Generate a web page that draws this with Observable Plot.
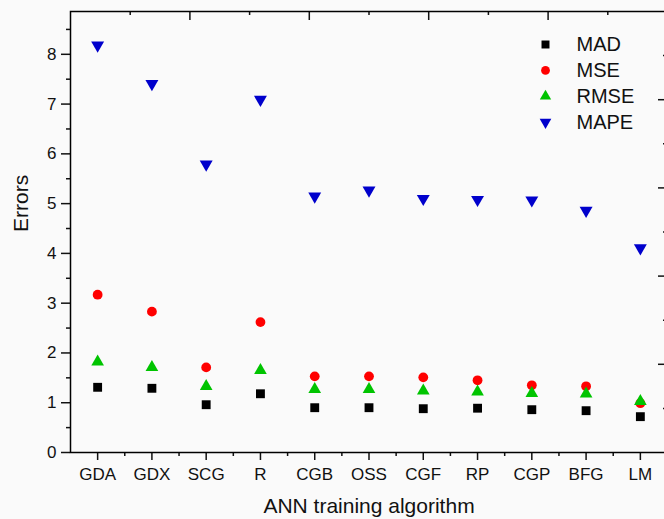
<!DOCTYPE html>
<html><head><meta charset="utf-8">
<script src="https://cdn.jsdelivr.net/npm/d3@7"></script>
<script src="https://cdn.jsdelivr.net/npm/@observablehq/plot@0.6"></script>
<style>
html,body{margin:0;padding:0;background:#fafafa;overflow:hidden;width:664px;height:519px}
#chart{width:664px;height:519px;overflow:hidden}
#chart svg{display:block;max-width:none !important;height:519px !important}
</style></head><body><div id="chart"></div>
<script>
const algorithms = ["GDA","GDX","SCG","R","CGB","OSS","CGF","RP","CGP","BFG","LM"];
const MAD  = [1.31,1.29,0.96,1.18,0.90,0.90,0.88,0.89,0.86,0.84,0.72];
const MSE  = [3.17,2.83,1.71,2.62,1.53,1.53,1.51,1.45,1.35,1.33,0.99];
const RMSE = [1.82,1.71,1.33,1.65,1.27,1.27,1.24,1.22,1.19,1.18,1.03];
const MAPE = [8.18,7.41,5.79,7.09,5.15,5.27,5.10,5.08,5.07,4.86,4.11];
const seriesNames = ["MAD","MSE","RMSE","MAPE"];
const seriesValues = [MAD, MSE, RMSE, MAPE];
const seriesColors = ["#000000","#ff0000","#00c400","#0000cc"];
const yTicks = [0,1,2,3,4,5,6,7,8];
const yMinorTicks = [0.5,1.5,2.5,3.5,4.5,5.5,6.5,7.5,8.5];
const yMax = 8.86;

const triangleDown = {
  draw(context, size) {
    const s3 = Math.sqrt(3);
    const y = -Math.sqrt(size / (s3 * 3));
    context.moveTo(0, -y * 2);
    context.lineTo(-s3 * y, y);
    context.lineTo(s3 * y, y);
    context.closePath();
  }
};
const seriesSymbols = ["square","circle","triangle", triangleDown];
const seriesR = [5, 4.9, 4.7, 4.8];

const W = 670, H = 519, mL = 70, mR = 3, mT = 11, mB = 67;
const frameW = W - mL - mR, frameH = H - mT - mB;
const font = "Liberation Sans, Arial, sans-serif";

const xIdx = algorithms.map((_, i) => i + 1);
const xMinor = algorithms.slice(0, -1).map((_, i) => i + 1.5);
const xDomain = [0.5, algorithms.length + 0.5];
// mirror axes (top/right) divided into tenths of the frame
const tenths = d3.range(1, 10);
const topLong = tenths.filter(k => k % 2 === 0).map(k => xDomain[0] + (xDomain[1] - xDomain[0]) * k / 10);
const topShort = tenths.filter(k => k % 2 === 1).map(k => xDomain[0] + (xDomain[1] - xDomain[0]) * k / 10);
const rightLong = tenths.filter(k => k % 2 === 0).map(k => yMax * k / 10);
const rightShort = tenths.filter(k => k % 2 === 1).map(k => yMax * k / 10);

const rows = seriesNames.map((s, j) => algorithms.map((a, i) => ({alg: a, x: i + 1, series: s, value: seriesValues[j][i]})));

const marks = [
  Plot.axisY({ticks: yTicks, tickSize: 9, tickPadding: 5, fontSize: 17, strokeWidth: 1.5, label: null, tickFormat: d => String(d)}),
  Plot.axisY({ticks: yMinorTicks, tickSize: 4, strokeWidth: 1.5, label: null, tickFormat: () => ""}),
  Plot.axisX({ticks: xIdx, tickSize: 8, tickPadding: 7, fontSize: 17, strokeWidth: 1.5, label: null, tickFormat: i => algorithms[i - 1]}),
  Plot.axisX({ticks: xMinor, tickSize: 4, strokeWidth: 1.5, label: null, tickFormat: () => ""}),
  Plot.tickX(topLong, {x: d => d, insetBottom: frameH - 9, strokeWidth: 1.5}),
  Plot.tickX(topShort, {x: d => d, insetBottom: frameH - 4, strokeWidth: 1.5}),
  Plot.tickY(rightLong, {y: d => d, insetLeft: frameW - 9, strokeWidth: 1.5}),
  Plot.tickY(rightShort, {y: d => d, insetLeft: frameW - 4, strokeWidth: 1.5}),
  Plot.frame({stroke: "#000", strokeWidth: 1.5}),
  ...rows.map((data, j) => Plot.dot(data, {x: "x", y: "value", symbol: seriesSymbols[j], r: seriesR[j], fill: seriesColors[j], stroke: "none"})),
  ...seriesNames.map((s, j) => Plot.dot([s], {frameAnchor: "top-left", dx: 475, dy: 33 + 25.9 * j, symbol: seriesSymbols[j], r: seriesR[j] * 0.9, fill: seriesColors[j], stroke: "none"})),
  ...seriesNames.map((s, j) => Plot.text([s], {text: d => d, frameAnchor: "top-left", dx: 506, dy: 33 + 25.9 * j, textAnchor: "start", lineAnchor: "middle", fontSize: 20, fill: "#111"})),
  Plot.text(["ANN training algorithm"], {text: d => d, frameAnchor: "bottom", dy: 54, lineAnchor: "middle", fontSize: 21, fill: "#111"}),
  Plot.text(["Errors"], {text: d => d, frameAnchor: "left", dx: -49, rotate: -90, lineAnchor: "middle", fontSize: 21, fill: "#111"})
];

const chart = Plot.plot({
  width: W, height: H,
  marginLeft: mL, marginRight: mR, marginTop: mT, marginBottom: mB,
  style: {fontFamily: font, background: "transparent", color: "#111", overflow: "visible", maxWidth: "none"},
  x: {type: "linear", domain: xDomain, axis: null},
  y: {type: "linear", domain: [0, yMax], axis: null},
  marks
});
document.getElementById("chart").appendChild(chart);
</script>
</body></html>
